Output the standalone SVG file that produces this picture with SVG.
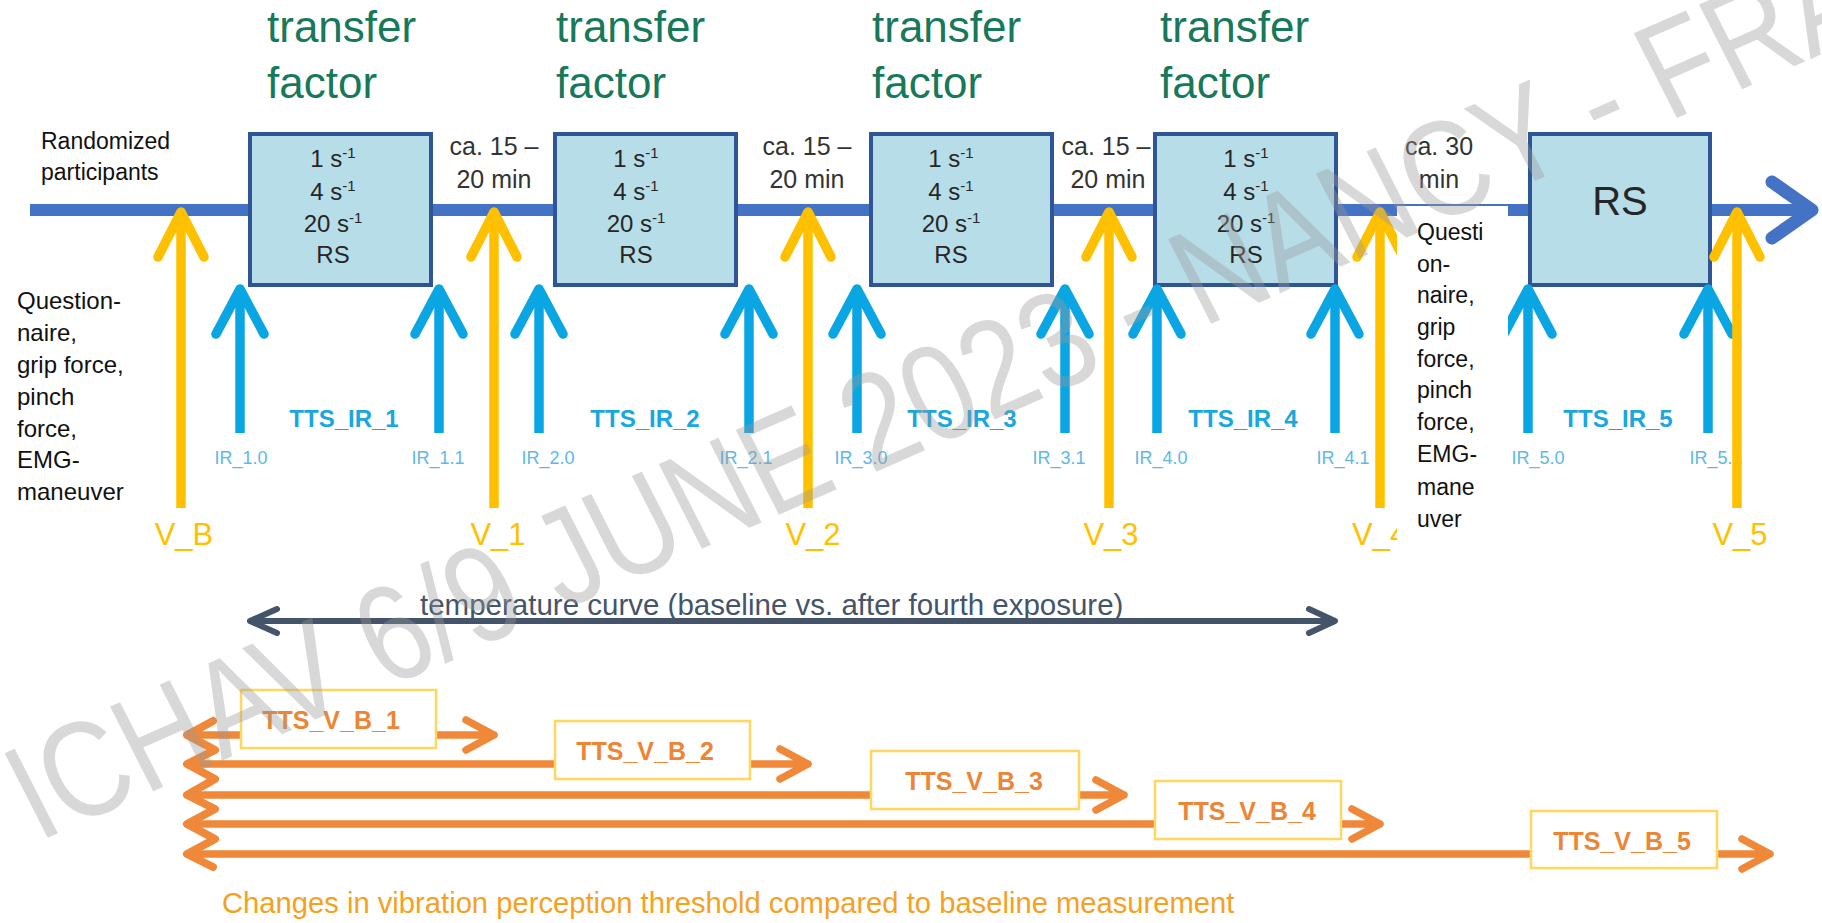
<svg xmlns="http://www.w3.org/2000/svg" width="1822" height="923" viewBox="0 0 1822 923">
<style>
text{font-family:"Liberation Sans",Arial,sans-serif}
.tf{font-size:44px;fill:#17795A}
.bx{fill:#B7DDE8;stroke:#2F5597;stroke-width:4}
.bt{font-size:24px;fill:#262626;text-anchor:middle}
.sup{font-size:15px}
.gap{font-size:25px;fill:#333;text-anchor:middle}
.lbl{font-size:24px;fill:#111}
.lbs{font-size:23px;fill:#111}
.ylw{fill:none;stroke:#FFC000;stroke-width:9.5;stroke-linejoin:round}
.cyn{fill:none;stroke:#0AA5E3;stroke-width:9.5;stroke-linejoin:round}
.cap{stroke-linecap:round}
.ir{font-size:18px;fill:#5DB9E6;text-anchor:middle}
.tts{font-size:24px;font-weight:bold;fill:#1AA7E0;text-anchor:middle}
.vl{font-size:31px;fill:#FFC000;text-anchor:middle}
.org{fill:none;stroke:#F0883A;stroke-width:7.5;stroke-linecap:round;stroke-linejoin:round}
.ob{fill:#fff;stroke:#FFD75E;stroke-width:2.5}
.ot{font-size:25px;font-weight:bold;fill:#EC8535;text-anchor:middle}
</style>
<rect width="1822" height="923" fill="#fff"/>

<g id="titles">
<text class="tf" x="267" y="42">transfer</text><text class="tf" x="267" y="98">factor</text>
<text class="tf" x="556" y="42">transfer</text><text class="tf" x="556" y="98">factor</text>
<text class="tf" x="872" y="42">transfer</text><text class="tf" x="872" y="98">factor</text>
<text class="tf" x="1160" y="42">transfer</text><text class="tf" x="1160" y="98">factor</text>
</g>

<g id="connectors">
<line x1="30" y1="210" x2="1808" y2="210" stroke="#4472C4" stroke-width="12"/>
<path d="M1772,182 L1812,210 L1772,238" fill="none" stroke="#4472C4" stroke-width="13" stroke-linecap="round" stroke-linejoin="round"/>
</g>

<g id="randomized">
<text class="lbs" x="41" y="149">Randomized</text>
<text class="lbs" x="41" y="180">participants</text>
</g>

<g id="box1"><rect class="bx" x="250" y="134" width="181" height="151"/>
<text class="bt" x="333" y="167">1 s<tspan class="sup" dy="-9">-1</tspan></text>
<text class="bt" x="333" y="200">4 s<tspan class="sup" dy="-9">-1</tspan></text>
<text class="bt" x="333" y="232">20 s<tspan class="sup" dy="-9">-1</tspan></text>
<text class="bt" x="333" y="263">RS</text></g>
<g id="box2"><rect class="bx" x="555" y="134" width="181" height="151"/>
<text class="bt" x="636" y="167">1 s<tspan class="sup" dy="-9">-1</tspan></text>
<text class="bt" x="636" y="200">4 s<tspan class="sup" dy="-9">-1</tspan></text>
<text class="bt" x="636" y="232">20 s<tspan class="sup" dy="-9">-1</tspan></text>
<text class="bt" x="636" y="263">RS</text></g>
<g id="box3"><rect class="bx" x="871" y="134" width="181" height="151"/>
<text class="bt" x="951" y="167">1 s<tspan class="sup" dy="-9">-1</tspan></text>
<text class="bt" x="951" y="200">4 s<tspan class="sup" dy="-9">-1</tspan></text>
<text class="bt" x="951" y="232">20 s<tspan class="sup" dy="-9">-1</tspan></text>
<text class="bt" x="951" y="263">RS</text></g>
<g id="box4"><rect class="bx" x="1155" y="134" width="181" height="151"/>
<text class="bt" x="1246" y="167">1 s<tspan class="sup" dy="-9">-1</tspan></text>
<text class="bt" x="1246" y="200">4 s<tspan class="sup" dy="-9">-1</tspan></text>
<text class="bt" x="1246" y="232">20 s<tspan class="sup" dy="-9">-1</tspan></text>
<text class="bt" x="1246" y="263">RS</text></g>
<g id="box5"><rect class="bx" x="1530" y="134" width="180" height="151"/>
<text class="bt" x="1620" y="215" style="font-size:40px">RS</text></g>

<g id="gaps">
<text class="gap" x="494" y="155">ca. 15 –</text><text class="gap" x="494" y="188">20 min</text>
<text class="gap" x="807" y="155">ca. 15 –</text><text class="gap" x="807" y="188">20 min</text>
<text class="gap" x="1106" y="155">ca. 15 –</text><text class="gap" x="1108" y="188">20 min</text>
<text class="gap" x="1439" y="155">ca. 30</text><text class="gap" x="1439" y="188">min</text>
</g>

<g id="ir-arrows">
<path class="cyn" d="M240,433V292"/><path class="cyn cap" d="M216,334L240,289L264,334"/>
<path class="cyn" d="M439,433V292"/><path class="cyn cap" d="M415,334L439,289L463,334"/>
<path class="cyn" d="M539,433V292"/><path class="cyn cap" d="M515,334L539,289L563,334"/>
<path class="cyn" d="M749,433V292"/><path class="cyn cap" d="M725,334L749,289L773,334"/>
<path class="cyn" d="M857,433V292"/><path class="cyn cap" d="M833,334L857,289L881,334"/>
<path class="cyn" d="M1065,433V292"/><path class="cyn cap" d="M1041,334L1065,289L1089,334"/>
<path class="cyn" d="M1157,433V292"/><path class="cyn cap" d="M1133,334L1157,289L1181,334"/>
<path class="cyn" d="M1335,433V292"/><path class="cyn cap" d="M1311,334L1335,289L1359,334"/>
<path class="cyn" d="M1528,433V292"/><path class="cyn cap" d="M1504,334L1528,289L1552,334"/>
<path class="cyn" d="M1708,433V292"/><path class="cyn cap" d="M1684,334L1708,289L1732,334"/>
</g>
<g id="ir-labels">
<text class="ir" x="241" y="464">IR_1.0</text>
<text class="ir" x="438" y="464">IR_1.1</text>
<text class="ir" x="548" y="464">IR_2.0</text>
<text class="ir" x="746" y="464">IR_2.1</text>
<text class="ir" x="861" y="464">IR_3.0</text>
<text class="ir" x="1059" y="464">IR_3.1</text>
<text class="ir" x="1161" y="464">IR_4.0</text>
<text class="ir" x="1343" y="464">IR_4.1</text>
<text class="ir" x="1538" y="464">IR_5.0</text>
<text class="ir" x="1716" y="464">IR_5.1</text>
<text class="tts" x="344" y="427">TTS_IR_1</text>
<text class="tts" x="645" y="427">TTS_IR_2</text>
<text class="tts" x="962" y="427">TTS_IR_3</text>
<text class="tts" x="1243" y="427">TTS_IR_4</text>
<text class="tts" x="1618" y="427">TTS_IR_5</text>
</g>

<g id="v-arrows">
<path class="ylw" d="M181,508V215"/><path class="ylw cap" d="M158,257L181,212L204,257"/>
<path class="ylw" d="M494,508V215"/><path class="ylw cap" d="M471,257L494,212L517,257"/>
<path class="ylw" d="M808,508V215"/><path class="ylw cap" d="M785,257L808,212L831,257"/>
<path class="ylw" d="M1109,508V215"/><path class="ylw cap" d="M1086,257L1109,212L1132,257"/>
<path class="ylw" d="M1380,508V215"/><path class="ylw cap" d="M1357,257L1380,212L1403,257"/>
<path class="ylw" d="M1737,508V215"/><path class="ylw cap" d="M1714,257L1737,212L1760,257"/>
</g>
<g id="v-labels">
<text class="vl" x="184" y="545">V_B</text>
<text class="vl" x="498" y="545">V_1</text>
<text class="vl" x="813" y="545">V_2</text>
<text class="vl" x="1111" y="545">V_3</text>
<text class="vl" x="1352" y="545" style="text-anchor:start">V_4</text>
<text class="vl" x="1740" y="545">V_5</text>
</g>

<g id="measures-left">
<text class="lbl" x="17" y="309">Question-</text>
<text class="lbl" x="17" y="341">naire,</text>
<text class="lbl" x="17" y="373">grip force,</text>
<text class="lbl" x="17" y="405">pinch</text>
<text class="lbl" x="17" y="437">force,</text>
<text class="lbl" x="17" y="468">EMG-</text>
<text class="lbl" x="17" y="500">maneuver</text>
</g>

<g id="measures-right">
<rect x="1397" y="206" width="111" height="344" fill="#fff"/>
<text class="lbs" x="1417" y="240">Questi</text>
<text class="lbs" x="1417" y="272">on-</text>
<text class="lbs" x="1417" y="303">naire,</text>
<text class="lbs" x="1417" y="335">grip</text>
<text class="lbs" x="1417" y="367">force,</text>
<text class="lbs" x="1417" y="398">pinch</text>
<text class="lbs" x="1417" y="430">force,</text>
<text class="lbs" x="1417" y="462">EMG-</text>
<text class="lbs" x="1417" y="495">mane</text>
<text class="lbs" x="1417" y="527">uver</text>
</g>

<g id="temperature">
<line x1="252" y1="621" x2="1332" y2="621" stroke="#44546A" stroke-width="6"/>
<path d="M277,609L250,621L277,633M1309,609L1335,621L1309,633" fill="none" stroke="#44546A" stroke-width="6" stroke-linecap="round" stroke-linejoin="round"/>
<text x="420" y="615" font-size="29.5" fill="#44546A">temperature curve (baseline vs. after fourth exposure)</text>
</g>

<g id="tts-v-connectors">
<path class="org" d="M188,735H494M466,720L494,735L466,750"/>
<path class="org" d="M188,764H808M780,749L808,764L780,779"/>
<path class="org" d="M188,795H1124M1096,780L1124,795L1096,810"/>
<path class="org" d="M188,824H1380M1352,809L1380,824L1352,839"/>
<path class="org" d="M188,854H1770M1742,839L1770,854L1742,869"/>
<polyline class="org" style="stroke-width:8" points="213,721 187,735 215,750 187,764 215,779 187,795 215,809 187,824 215,839 187,854 213,867"/>
</g>
<g id="ttsv1"><rect class="ob" x="241" y="690" width="195" height="58"/><text class="ot" x="331" y="729">TTS_V_B_1</text></g>
<g id="ttsv2"><rect class="ob" x="555" y="721" width="195" height="58"/><text class="ot" x="645" y="760">TTS_V_B_2</text></g>
<g id="ttsv3"><rect class="ob" x="871" y="751" width="208" height="58"/><text class="ot" x="974" y="790">TTS_V_B_3</text></g>
<g id="ttsv4"><rect class="ob" x="1155" y="781" width="186" height="58"/><text class="ot" x="1247" y="820">TTS_V_B_4</text></g>
<g id="ttsv5"><rect class="ob" x="1531" y="811" width="186" height="57"/><text class="ot" x="1622" y="850">TTS_V_B_5</text></g>

<text x="222" y="913" font-size="29.2" fill="#F5A11F">Changes in vibration perception threshold compared to baseline measurement</text>

<g id="watermark" transform="translate(38,842) scale(1.075,1) rotate(-25.4)">
<text x="0" y="0" font-size="136" fill="#999" fill-opacity="0.38" textLength="2130" lengthAdjust="spacingAndGlyphs">ICHAV 6/9 JUNE 2023 - NANCY - FRANCE</text>
</g>
</svg>
